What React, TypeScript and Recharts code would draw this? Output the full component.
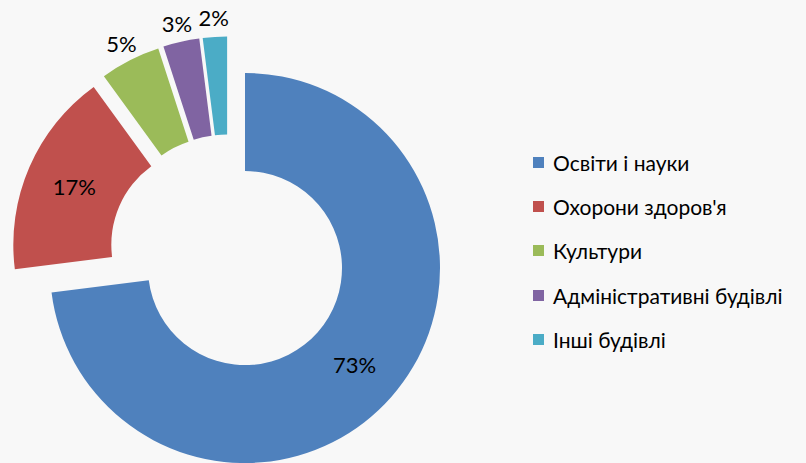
import React from "react";
import { PieChart, Pie, Cell, Legend, Sector } from "recharts";

const categories = ["Освіти і науки", "Охорони здоров'я", "Культури", "Адміністративні будівлі", "Інші будівлі"];
const shares = [73, 17, 5, 3, 2];
const COLORS = ["#4F81BD", "#C0504D", "#9BBB59", "#8064A2", "#4BACC6"];

const data = categories.map((name, i) => ({ name, value: shares[i] }));

const RAD = Math.PI / 180;
const EXPLODE = 22;
const FONT = "Lato, 'Open Sans', sans-serif";

// every slice pushed out along its middle angle
function ExplodedSlice(props: any) {
  const { cx, cy, midAngle, innerRadius, outerRadius, startAngle, endAngle, fill } = props;
  const dx = Math.cos(-midAngle * RAD) * EXPLODE;
  const dy = Math.sin(-midAngle * RAD) * EXPLODE;
  return (
    <Sector
      cx={cx + dx}
      cy={cy + dy}
      innerRadius={innerRadius}
      outerRadius={outerRadius}
      startAngle={startAngle}
      endAngle={endAngle}
      fill={fill}
      stroke="none"
    />
  );
}

function SliceLabel(props: any) {
  const { cx, cy, midAngle, innerRadius, outerRadius, value } = props;
  const small = value < 10;
  const r = small ? outerRadius + 19 : (innerRadius + outerRadius) / 2;
  const ox = cx + Math.cos(-midAngle * RAD) * (EXPLODE + r);
  const oy = cy + Math.sin(-midAngle * RAD) * (EXPLODE + r);
  return (
    <text x={ox} y={oy} textAnchor="middle" dominantBaseline="central" fill="#000" fontSize={22} fontFamily={FONT}>
      {`${value}%`}
    </text>
  );
}

// keep the legend in data order
function LegendList() {
  return (
    <div>
      {categories.map((name, i) => (
        <div key={name} style={{ display: "flex", alignItems: "center", height: 44.3, fontFamily: FONT, fontSize: 21, color: "#000" }}>
          <span style={{ width: 11, height: 11, background: COLORS[i], marginRight: 9, display: "inline-block" }} />
          <span>{name}</span>
        </div>
      ))}
    </div>
  );
}

export default function App() {
  return (
    <div style={{ position: "fixed", left: 0, top: 0, width: 806, height: 463, background: "#f8f8f8" }}>
      <PieChart width={806} height={463} margin={{ top: 0, right: 0, bottom: 0, left: 0 }}>
        <Pie
          data={data}
          dataKey="value"
          nameKey="name"
          cx={228.5}
          cy={253.5}
          innerRadius={97}
          outerRadius={195}
          startAngle={90}
          endAngle={-270}
          paddingAngle={0}
          shape={ExplodedSlice}
          activeShape={ExplodedSlice}
          inactiveShape={ExplodedSlice}
          label={SliceLabel}
          labelLine={false}
          isAnimationActive={false}
          stroke="none"
        >
          {data.map((_, i) => <Cell key={i} fill={COLORS[i]} />)}
        </Pie>
        <Legend
          layout="vertical"
          content={LegendList}
          wrapperStyle={{ left: 533, top: 140, width: 273 }}
        />
      </PieChart>
    </div>
  );
}
